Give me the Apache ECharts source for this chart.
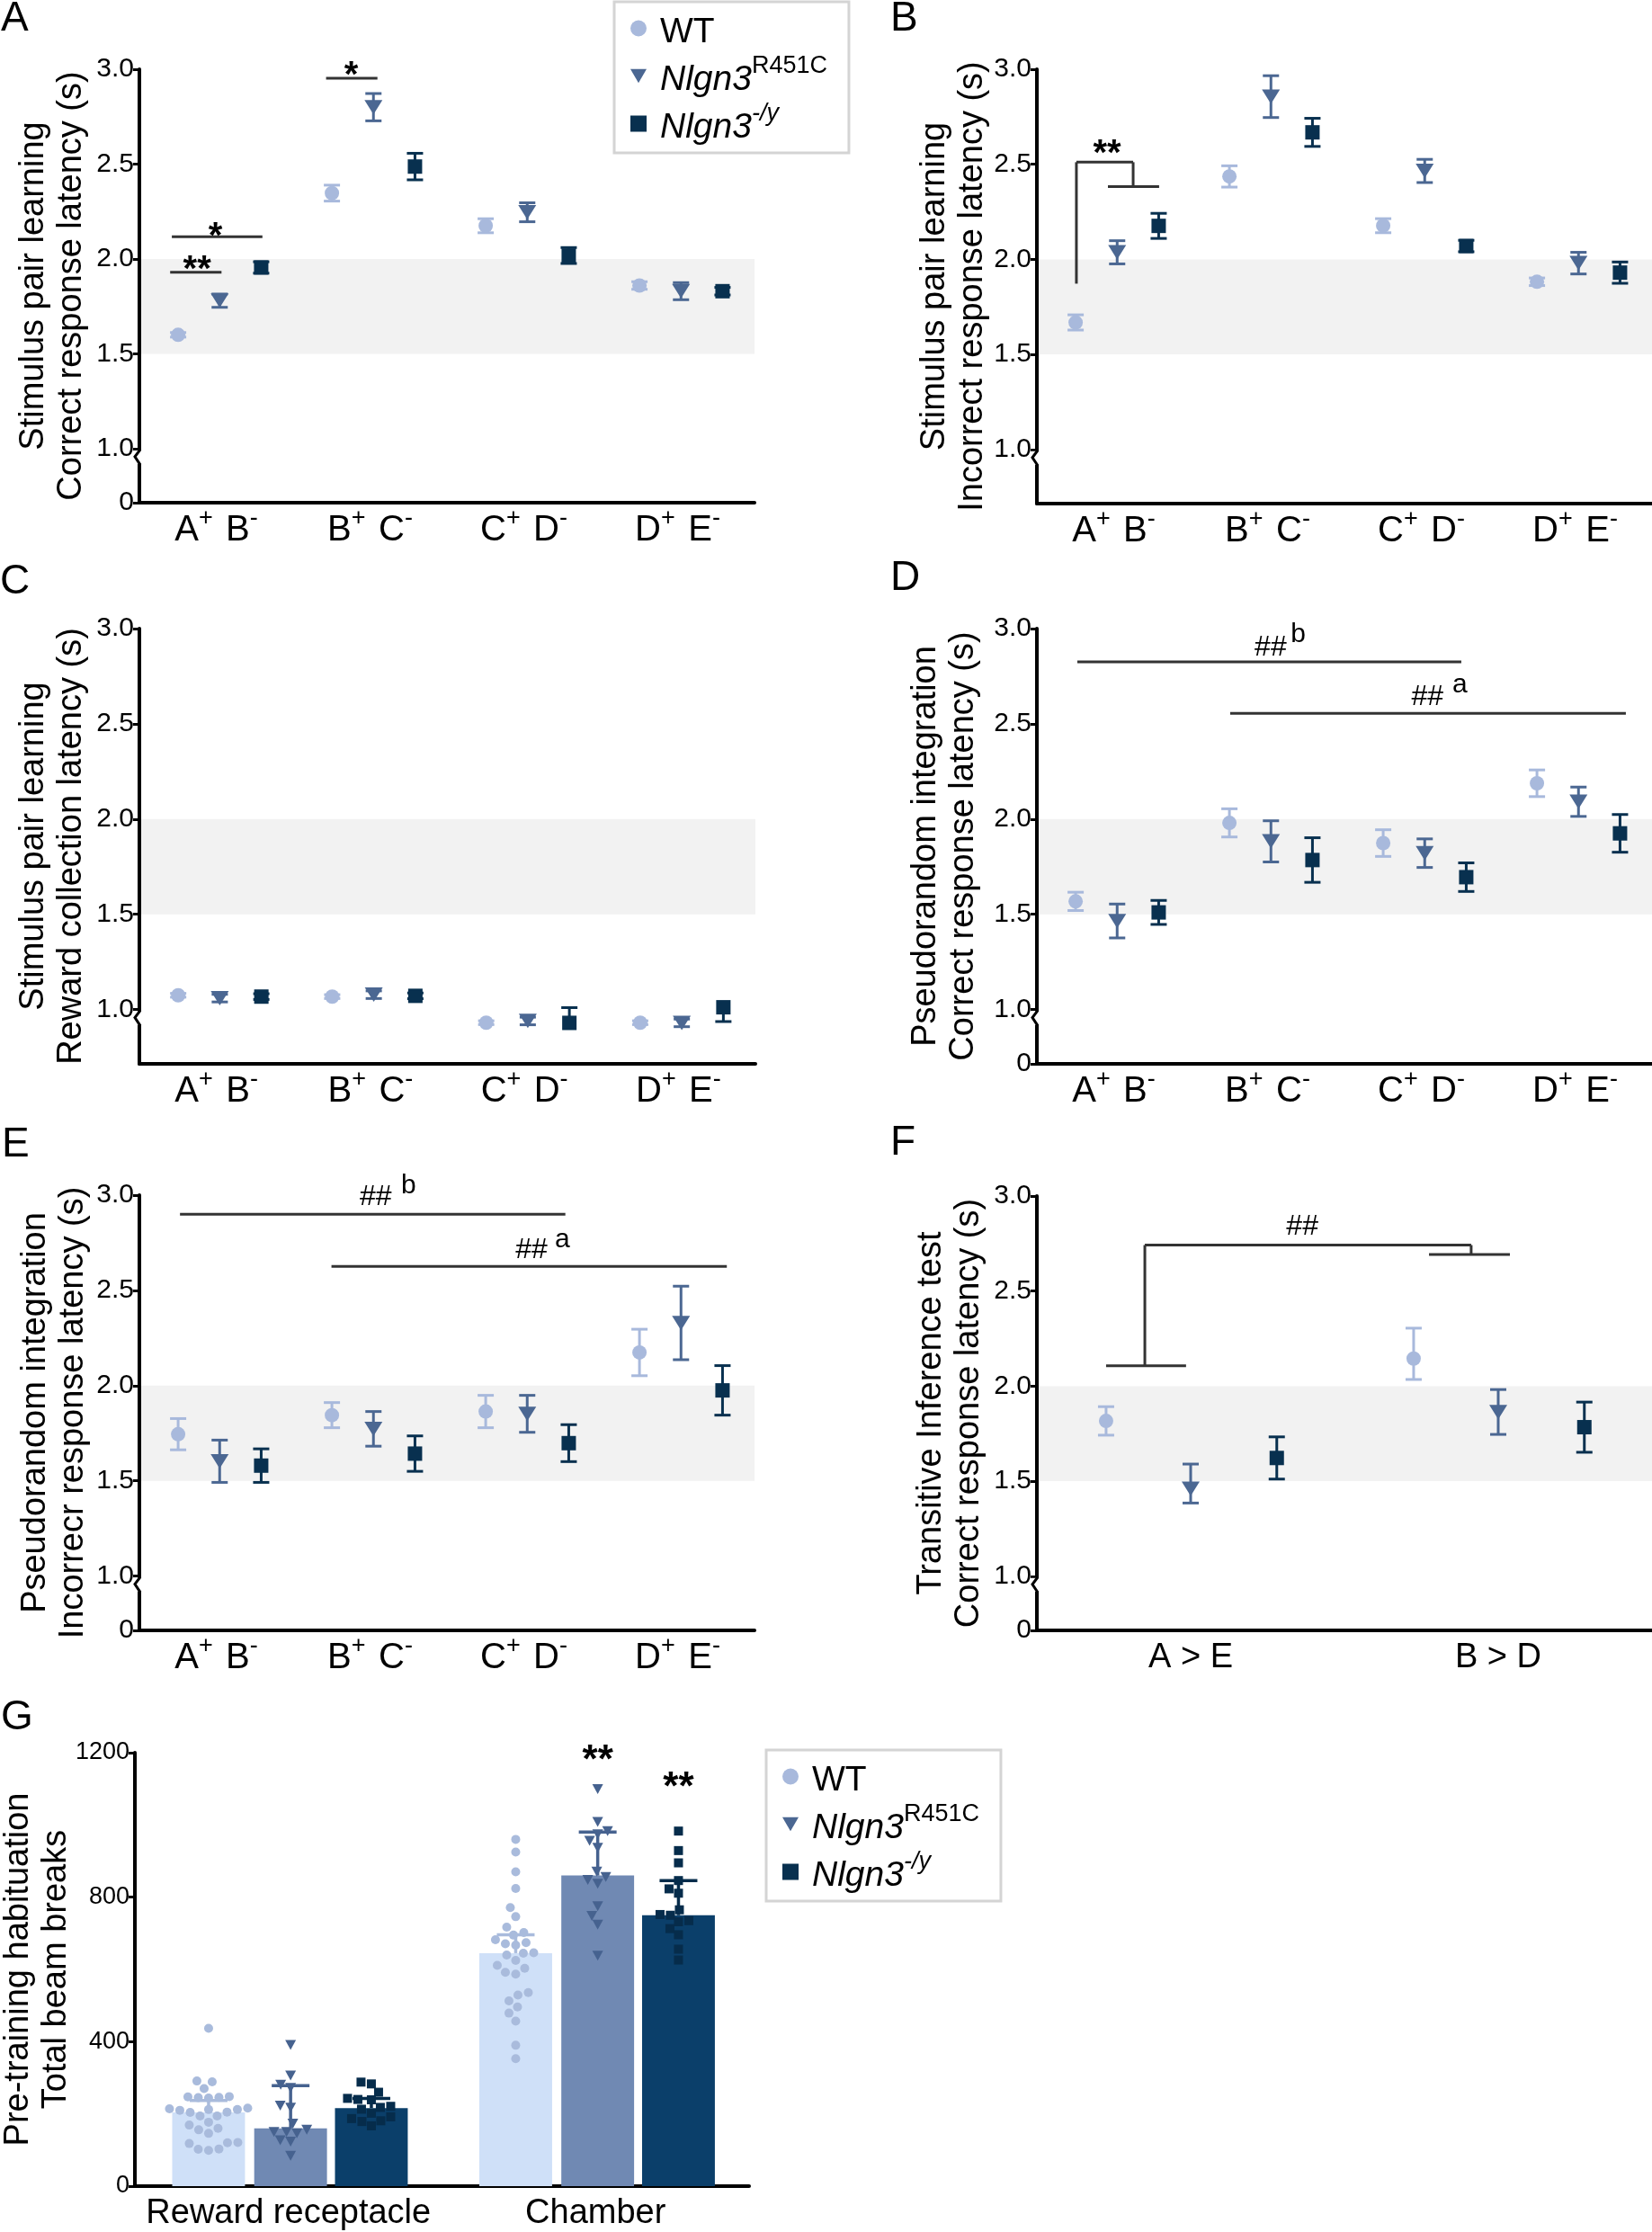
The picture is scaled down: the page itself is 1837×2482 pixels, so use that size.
<!DOCTYPE html>
<html><head><meta charset="utf-8"><title>Figure</title>
<script src="https://cdn.jsdelivr.net/npm/echarts@6.0.0/dist/echarts.min.js"></script>
<style>html,body{margin:0;padding:0;background:#fff;}#chart{width:1837px;height:2482px;}</style>
</head><body><div id="chart"></div>
<script>
// ================= DATA =================
const genotypes = ['WT', 'Nlgn3R451C', 'Nlgn3-/y'];
const pairCategories = ['A+ B-', 'B+ C-', 'C+ D-', 'D+ E-'];
const testCategories = ['A > E', 'B > D'];
const habCategories = ['Reward receptacle', 'Chamber'];
const latencyTicks = [1.0, 1.5, 2.0, 2.5, 3.0];
const beamTicks = [0, 400, 800, 1200];
const criterionBand = [1.5, 2.0];

// A: stimulus pair learning, correct response latency (mean, SEM)
const aWT = [1.60, 2.347, 2.175, 1.86];
const aWTerr = [0.012, 0.042, 0.037, 0.02];
const aR451C = [1.78, 2.80, 2.246, 1.83];
const aR451Cerr = [0.035, 0.072, 0.05, 0.045];
const aKO = [1.955, 2.487, 2.018, 1.83];
const aKOerr = [0.03, 0.07, 0.042, 0.02];

// B: stimulus pair learning, incorrect response latency
const bWT = [1.668, 2.436, 2.177, 1.882];
const bWTerr = [0.04, 0.056, 0.037, 0.02];
const bR451C = [2.037, 2.856, 2.465, 1.98];
const bR451Cerr = [0.061, 0.11, 0.061, 0.057];
const bKO = [2.176, 2.668, 2.07, 1.93];
const bKOerr = [0.066, 0.074, 0.03, 0.056];

// C: stimulus pair learning, reward collection latency
const cWT = [1.075, 1.068, 0.931, 0.931];
const cWTerr = [0.01, 0.01, 0.01, 0.01];
const cR451C = [1.06, 1.078, 0.94, 0.93];
const cR451Cerr = [0.02, 0.02, 0.02, 0.02];
const cKO = [1.068, 1.072, 0.93, 1.012];
const cKOerr = [0.015, 0.015, [0, 0.08], [0.075, 0]];

// D: pseudorandom integration, correct response latency
const dWT = [1.568, 1.98, 1.874, 2.188];
const dWTerr = [0.048, 0.074, 0.07, 0.07];
const dR451C = [1.465, 1.883, 1.821, 2.091];
const dR451Cerr = [0.089, 0.108, 0.075, 0.077];
const dKO = [1.51, 1.785, 1.695, 1.925];
const dKOerr = [0.063, 0.117, 0.075, 0.099];

// E: pseudorandom integration, incorrect response latency
const eWT = [1.745, 1.845, 1.864, 2.174];
const eWTerr = [0.082, 0.066, 0.085, 0.122];
const eR451C = [1.603, 1.773, 1.852, 2.329];
const eR451Cerr = [0.111, 0.091, 0.097, 0.193];
const eKO = [1.58, 1.643, 1.698, 1.975];
const eKOerr = [0.088, 0.093, 0.097, 0.13];

// F: transitive inference test, correct response latency
const fWT = [1.817, 2.145];
const fWTerr = [0.075, [0.11, 0.16]];
const fR451C = [1.46, 1.864];
const fR451Cerr = [[0.075, 0.13], 0.118];
const fKO = [1.622, 1.784];
const fKOerr = [0.111, 0.132];

// G: pre-training habituation, total beam breaks (bar = median, whisker = upper quartile)
const habWTMedian = [204, 645];
const habR451CMedian = [160, 860];
const habKOMedian = [216, 750];
const habWTUpper = [237, 696];
const habR451CUpper = [278, 980];
const habKOUpper = [243, 846];
const habWTReward = [437, 291, 289, 270, 248, 246, 244, 247, 245, 214, 212, 210, 204, 216, 205, 212, 194, 194, 177, 169, 160, 156, 146, 120, 118, 121, 102, 103, 99];
const habR451CReward = [391, 306, 281, 272, 223, 217, 173, 150, 146, 150, 156, 123, 127, 84];
const habKOReward = [283, 288, 260, 243, 239, 240, 221, 218, 213, 202, 192, 187, 181, 179, 167];
const habWTChamber = [960, 925, 870, 824, 771, 746, 717, 695, 702, 671, 682, 667, 674, 646, 640, 645, 625, 611, 603, 592, 587, 536, 529, 513, 496, 479, 457, 390, 353];
const habR451CChamber = [1099, 1008, 983, 974, 956, 937, 871, 848, 856, 837, 775, 748, 724, 638];
const habKOChamber = [983, 929, 895, 846, 823, 811, 765, 750, 752, 732, 735, 713, 696, 656, 626];

// significance annotations (data coordinates)
const annALines = [[-0.30, 1.93, 0.034, 1.93], [-0.289, 2.117, 0.30, 2.117], [0.714, 2.953, 1.048, 2.953]];
const annATexts = [['**', -0.125, 1.94], ['*', -0.005, 2.115], ['*', 0.878, 2.96]];
const annBLines = [[-0.243, 1.872, -0.243, 2.511], [-0.243, 2.511, 0.126, 2.511], [0.126, 2.511, 0.126, 2.383], [-0.038, 2.383, 0.295, 2.383]];
const annBTexts = [['**', -0.044, 2.55]];
const annDLines = [[-0.237, 2.825, 2.26, 2.825], [0.757, 2.555, 3.33, 2.555]];
const annDTexts = [['##', 1.02, 2.9], ['b', 1.2, 2.97], ['##', 2.04, 2.64], ['a', 2.25, 2.705]];
const annELines = [[-0.236, 2.90, 2.27, 2.90], [0.749, 2.626, 3.32, 2.626]];
const annETexts = [['##', 1.037, 2.99], ['b', 1.25, 3.05], ['##', 2.05, 2.71], ['a', 2.25, 2.765]];
const annFLines = [[-0.275, 2.107, -0.015, 2.107], [-0.149, 2.107, -0.149, 2.742], [-0.149, 2.742, 0.912, 2.742], [0.912, 2.742, 0.912, 2.692], [0.775, 2.692, 1.038, 2.692]];
const annFTexts = [['##', 0.363, 2.836]];
const annGTexts = [['**', 1.007, 1175], ['**', 1.27, 1102]];

// ================= STYLE / LAYOUT =================
const FONT = '"Liberation Sans", Arial, Helvetica, sans-serif';
const SERIES_COLORS = ['#a8b9dc', '#4b6792', '#08304f'];
const BAR_COLORS = ['#cfe0f8', '#7089b3', '#0b3f6a'];
const DOT_COLORS = ['#a9bbdc', '#46628f', '#062c4b'];
const TRI = 'path://M0,0L20,0L10,17Z';
const SYMBOLS = ['circle', TRI, 'rect'];
const SYMBOL_SIZES = [16, [20, 16], 16];
const DOT_SIZES = [10, [12, 11], 10];
const Y_BOTTOM = 0.715;
const OFF4 = [-0.248, 0.022, 0.292];
const OFF2 = [-0.275, 0.0, 0.28];
const OFFG = [-0.26, 0.007, 0.27];
const TICK_FS = 30;

const panels = [
  {grid: {left: 155, top: 77, width: 684, height: 482}, cats: pairCategories, off: OFF4, means: [aWT, aR451C, aKO], errs: [aWTerr, aR451Cerr, aKOerr], title: 'Stimulus pair learning\nCorrect response latency (s)', nameGap: 54, zero: true, lines: annALines, texts: annATexts},
  {grid: {left: 1153, top: 77, width: 684, height: 483}, cats: pairCategories, off: OFF4, means: [bWT, bR451C, bKO], errs: [bWTerr, bR451Cerr, bKOerr], title: 'Stimulus pair learning\nIncorrect response latency (s)', nameGap: 50, zero: false, lines: annBLines, texts: annBTexts},
  {grid: {left: 155, top: 699, width: 685, height: 484}, cats: pairCategories, off: OFF4, means: [cWT, cR451C, cKO], errs: [cWTerr, cR451Cerr, cKOerr], title: 'Stimulus pair learning\nReward collection latency (s)', nameGap: 54, zero: false, lines: [], texts: []},
  {grid: {left: 1153, top: 699, width: 684, height: 484}, cats: pairCategories, off: OFF4, means: [dWT, dR451C, dKO], errs: [dWTerr, dR451Cerr, dKOerr], title: 'Pseudorandom integration\nCorrect response latency (s)', nameGap: 60, zero: true, lines: annDLines, texts: annDTexts},
  {grid: {left: 155, top: 1329, width: 684, height: 484}, cats: pairCategories, off: OFF4, means: [eWT, eR451C, eKO], errs: [eWTerr, eR451Cerr, eKOerr], title: 'Pseudorandom integration\nIncorrecr response latency (s)', nameGap: 52, zero: true, lines: annELines, texts: annETexts},
  {grid: {left: 1153, top: 1330, width: 684, height: 483}, cats: testCategories, off: OFF2, means: [fWT, fR451C, fKO], errs: [fWTerr, fR451Cerr, fKOerr], title: 'Transitive Inference test\nCorrect response latency (s)', nameGap: 54, zero: true, lines: annFLines, texts: annFTexts}
];
const G = {grid: {left: 150, top: 1949, width: 683, height: 482}, title: 'Pre-training habituation\nTotal beam breaks', nameGap: 66};
const letters = [['A', 1, -2], ['B', 990, -2], ['C', 0, 624], ['D', 990, 620], ['E', 2, 1250], ['F', 990, 1248], ['G', 1, 1887]];

// ================= HELPERS =================
const CAT_RICH = {
  m: {fontSize: 40, fontFamily: FONT, color: '#000', lineHeight: 46, verticalAlign: 'bottom'},
  w: {fontSize: 38, fontFamily: FONT, color: '#000', lineHeight: 46, verticalAlign: 'bottom'},
  sp: {fontSize: 52, fontFamily: FONT, color: '#000', lineHeight: 46, verticalAlign: 'bottom'},
  s: {fontSize: 27, fontFamily: FONT, color: '#000', verticalAlign: 'top', padding: [0, 0, 20, 0]}
};
function catLabel(c) {
  const toks = c.split(' ');
  if (toks.every(t => /^[A-Z][+-]$/.test(t))) {
    return toks.map(t => '{m|' + t[0] + '}{s|' + t[1] + '}').join('{sp| }');
  }
  return '{w|' + c + '}';
}
function errPair(e) { return Array.isArray(e) ? e : [e, e]; }

function xAxisFor(gi, cats) {
  return {type: 'value', gridIndex: gi, min: -0.5, max: cats.length - 0.5,
    axisLine: {show: true, onZero: false, lineStyle: {color: '#000', width: 4}},
    axisTick: {show: false}, splitLine: {show: false},
    axisLabel: {customValues: cats.map((c, i) => i), formatter: v => catLabel(cats[Math.round(v)]), margin: 4, rich: CAT_RICH, fontSize: 40, fontFamily: FONT, color: '#000'}};
}
function yAxisLatency(gi, p) {
  const vals = p.zero ? [Y_BOTTOM].concat(latencyTicks) : latencyTicks.slice();
  return {type: 'value', gridIndex: gi, min: Y_BOTTOM, max: 3,
    axisLine: {show: true, onZero: false, lineStyle: {color: '#000', width: 4}},
    axisTick: {show: true, length: 7, customValues: vals, lineStyle: {color: '#000', width: 3}},
    axisLabel: {customValues: vals, formatter: v => (v < 0.9 ? '0' : v.toFixed(1)), fontSize: TICK_FS, fontFamily: FONT, color: '#000', margin: 6},
    splitLine: {show: false},
    name: p.title, nameLocation: 'middle', nameGap: p.nameGap, nameRotate: 90, nameMoveOverlap: false,
    nameTextStyle: {fontSize: 38, lineHeight: 42, fontFamily: FONT, color: '#000'}};
}
function bandSeries(gi) {
  return {type: 'custom', xAxisIndex: gi, yAxisIndex: gi, z: 1, silent: true,
    data: [[0, criterionBand[0], criterionBand[1]]], encode: {x: 0, y: [1, 2]},
    renderItem: (params, api) => {
      const cs = params.coordSys;
      const y0 = api.coord([api.value(0), api.value(1)])[1];
      const y1 = api.coord([api.value(0), api.value(2)])[1];
      return {type: 'rect', shape: {x: cs.x + 2, y: y1, width: cs.width - 2, height: y0 - y1}, style: {fill: '#f2f2f2'}};
    }};
}
function errorSeries(gi, name, color, data, capHalf, lw, z) {
  return {type: 'custom', name: name, xAxisIndex: gi, yAxisIndex: gi, z: z, silent: true, clip: false,
    data: data, encode: {x: 0, y: 1},
    renderItem: (params, api) => {
      const x = api.value(0), m = api.value(1), dn = api.value(2), up = api.value(3);
      const pt = api.coord([x, m + up]), pb = api.coord([x, m - dn]);
      const st = {stroke: color, lineWidth: lw};
      const ch = [{type: 'line', shape: {x1: pt[0], y1: pt[1], x2: pb[0], y2: pb[1]}, style: st}];
      if (up > 0) ch.push({type: 'line', shape: {x1: pt[0] - capHalf, y1: pt[1], x2: pt[0] + capHalf, y2: pt[1]}, style: st});
      if (dn > 0) ch.push({type: 'line', shape: {x1: pb[0] - capHalf, y1: pb[1], x2: pb[0] + capHalf, y2: pb[1]}, style: st});
      return {type: 'group', children: ch};
    }};
}
function segSeries(gi, segs) {
  return {type: 'custom', xAxisIndex: gi, yAxisIndex: gi, z: 6, silent: true, clip: false,
    data: segs, encode: {x: [0, 2], y: [1, 3]},
    renderItem: (params, api) => {
      const a = api.coord([api.value(0), api.value(1)]), b = api.coord([api.value(2), api.value(3)]);
      return {type: 'line', shape: {x1: a[0], y1: a[1], x2: b[0], y2: b[1]}, style: {stroke: '#333', lineWidth: 3}};
    }};
}
function textSeries(gi, list, starSize) {
  return {type: 'custom', xAxisIndex: gi, yAxisIndex: gi, z: 7, silent: true, clip: false,
    data: list.map(t => [t[1], t[2]]), encode: {x: 0, y: 1},
    renderItem: (params, api) => {
      const t = list[params.dataIndex][0];
      const p = api.coord([api.value(0), api.value(1)]);
      let font = '30px ' + FONT;
      if (t.indexOf('*') >= 0) font = 'bold ' + starSize + 'px ' + FONT;
      else if (t.indexOf('#') >= 0) font = '32px ' + FONT;
      return {type: 'text', x: p[0], y: p[1], style: {text: t, font: font, fill: '#000', align: 'center', verticalAlign: 'middle', textAlign: 'center', textVerticalAlign: 'middle'}};
    }};
}
function swarmOffsets(values, diameter, pxPerUnitY) {
  const order = values.map((v, i) => i).sort((a, b) => values[a] - values[b]);
  const placed = [];
  const out = new Array(values.length).fill(0);
  order.forEach(i => {
    const y = values[i] * pxPerUnitY;
    for (let k = 0; k < 600; k++) {
      const x = (k % 2 === 0 ? 1 : -1) * Math.ceil(k / 2) * 0.5;
      if (placed.every(p => (p[0] - x) * (p[0] - x) + (p[1] - y) * (p[1] - y) >= diameter * diameter)) {
        placed.push([x, y]); out[i] = x; return;
      }
    }
  });
  return out;
}
const LEG_RICH = {
  n: {fontSize: 39, fontFamily: FONT, color: '#000', lineHeight: 42, verticalAlign: 'bottom'},
  it: {fontSize: 39, fontFamily: FONT, fontStyle: 'italic', color: '#000', lineHeight: 42, verticalAlign: 'bottom'},
  sup: {fontSize: 27, fontFamily: FONT, color: '#000', verticalAlign: 'top', padding: [0, 0, 22, 0]},
  supi: {fontSize: 27, fontFamily: FONT, fontStyle: 'italic', color: '#000', verticalAlign: 'top', padding: [0, 0, 22, 0]}
};
function legendAt(left, top) {
  return {left: left, top: top, orient: 'vertical', selectedMode: false, itemWidth: 18, itemHeight: 18, itemGap: 4,
    padding: [5, 24, 8, 18], borderColor: '#d4d4d4', borderWidth: 3, backgroundColor: '#fff',
    data: genotypes.map((g, i) => ({name: g, icon: SYMBOLS[i], itemStyle: {color: SERIES_COLORS[i]}})),
    formatter: n => (n === 'WT' ? '{n|WT}{sup| }' : n === 'Nlgn3R451C' ? '{it|Nlgn3}{sup|R451C}' : '{it|Nlgn3}{supi|-/y}'),
    textStyle: {fontFamily: FONT, fontSize: 39, color: '#000', padding: [0, 0, 0, 10], rich: LEG_RICH}};
}

// ================= BUILD =================
const chart = echarts.init(document.getElementById('chart'), null, {renderer: 'canvas'});
const option = {animation: false, backgroundColor: '#fff', textStyle: {fontFamily: FONT},
  grid: [], xAxis: [], yAxis: [], series: [], legend: [legendAt(683, 2), legendAt(852, 1946)]};

panels.forEach((p, gi) => {
  option.grid.push(Object.assign({outerBoundsMode: 'none', containLabel: false}, p.grid));
  option.xAxis.push(xAxisFor(gi, p.cats));
  option.yAxis.push(yAxisLatency(gi, p));
  option.series.push(bandSeries(gi));
  genotypes.forEach((g, k) => {
    const means = p.means[k], errs = p.errs[k];
    option.series.push(errorSeries(gi, g + ' SEM', SERIES_COLORS[k],
      means.map((m, i) => { const e = errPair(errs[i]); return [i + p.off[k], m, e[0], e[1]]; }), 9, 3, 4));
    option.series.push({type: 'scatter', name: g, xAxisIndex: gi, yAxisIndex: gi, z: 5, silent: true,
      symbol: SYMBOLS[k], symbolSize: SYMBOL_SIZES[k], itemStyle: {color: SERIES_COLORS[k], opacity: 1},
      data: means.map((m, i) => [i + p.off[k], m])});
  });
  option.series.push(segSeries(gi, p.lines));
  option.series.push(textSeries(gi, p.texts, 40));
});

// panel G
const gi = panels.length;
option.grid.push(Object.assign({outerBoundsMode: 'none', containLabel: false}, G.grid));
option.xAxis.push(xAxisFor(gi, habCategories));
option.yAxis.push({type: 'value', gridIndex: gi, min: 0, max: 1200, interval: 400,
  axisLine: {show: true, onZero: false, lineStyle: {color: '#000', width: 4}},
  axisTick: {show: true, length: 7, customValues: beamTicks, lineStyle: {color: '#000', width: 3}},
  axisLabel: {customValues: beamTicks, formatter: v => String(v), fontSize: 27, fontFamily: FONT, color: '#000', margin: 6},
  splitLine: {show: false},
  name: G.title, nameLocation: 'middle', nameGap: G.nameGap, nameRotate: 90, nameMoveOverlap: false,
  nameTextStyle: {fontSize: 38, lineHeight: 42, fontFamily: FONT, color: '#000'}});
const habMedians = [habWTMedian, habR451CMedian, habKOMedian];
const habUppers = [habWTUpper, habR451CUpper, habKOUpper];
const habPoints = [[habWTReward, habWTChamber], [habR451CReward, habR451CChamber], [habKOReward, habKOChamber]];
const pxPerY = G.grid.height / 1200, pxPerX = G.grid.width / 2;
const BAR_W = 0.237;
genotypes.forEach((g, k) => {
  option.series.push({type: 'custom', name: g + ' bar', xAxisIndex: gi, yAxisIndex: gi, z: 2, silent: true,
    data: habMedians[k].map((v, c) => [c + OFFG[k], v]), encode: {x: 0, y: 1},
    renderItem: (params, api) => {
      const p = api.coord([api.value(0), api.value(1)]);
      const b = api.coord([api.value(0), 0]);
      const w = api.size([BAR_W, 0])[0];
      return {type: 'rect', shape: {x: p[0] - w / 2, y: p[1], width: w, height: b[1] - p[1]}, style: {fill: BAR_COLORS[k]}};
    }});
  option.series.push(errorSeries(gi, g + ' IQR', DOT_COLORS[k],
    habMedians[k].map((v, c) => [c + OFFG[k], v, 0, habUppers[k][c] - v]), 21, 3.5, 3));
  const pts = [];
  habPoints[k].forEach((vals, c) => {
    const offs = swarmOffsets(vals, 11.5, pxPerY);
    vals.forEach((v, j) => pts.push([c + OFFG[k] + offs[j] / pxPerX, v]));
  });
  option.series.push({type: 'scatter', name: g, xAxisIndex: gi, yAxisIndex: gi, z: 4, silent: true,
    symbol: SYMBOLS[k], symbolSize: DOT_SIZES[k], itemStyle: {color: DOT_COLORS[k], opacity: 1}, data: pts});
});
option.series.push(textSeries(gi, annGTexts, 44));

chart.setOption(option);

// panel letters and axis-break marks
const gfx = [];
letters.forEach(l => gfx.push({type: 'text', x: l[1], y: l[2], z: 100,
  style: {text: l[0], font: '46px ' + FONT, fill: '#000', textVerticalAlign: 'top', verticalAlign: 'top'}}));
panels.forEach((p, i) => {
  const pt = chart.convertToPixel({gridIndex: i}, [-0.5, 1.0]);
  if (!pt) return;
  const ax = pt[0], y0 = pt[1];
  gfx.push({type: 'rect', z: 100, shape: {x: ax - 7, y: y0 + 2, width: 14, height: 15}, style: {fill: '#fff'}});
  gfx.push({type: 'polyline', z: 101, shape: {points: [[ax + 1, y0 + 1], [ax - 5, y0 + 9], [ax + 1, y0 + 18]]}, style: {stroke: '#000', lineWidth: 3, fill: null}});
});
chart.setOption({graphic: gfx});
</script>
</body></html>
